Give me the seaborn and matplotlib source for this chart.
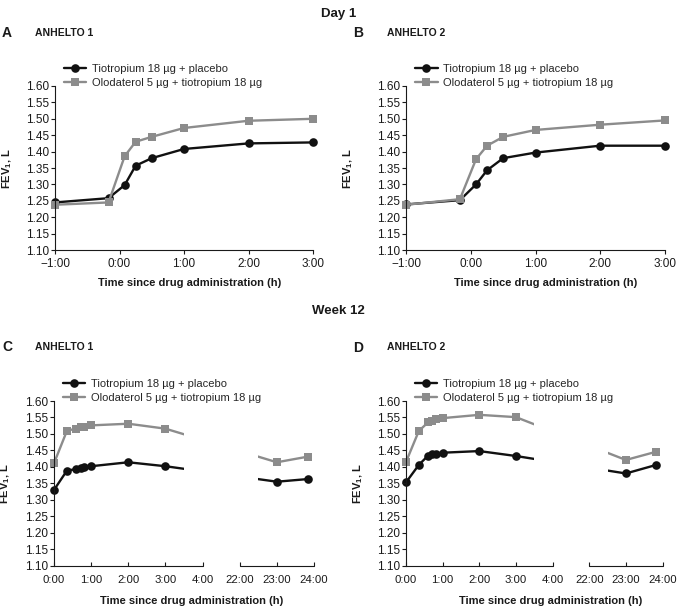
import numpy as np
import pandas as pd
import matplotlib
matplotlib.use("Agg")
import matplotlib.pyplot as plt
import seaborn as sns

# Day 1 - hours relative to drug administration
day1_time = [-1.0, -0.17, 0.08, 0.25, 0.5, 1.0, 2.0, 3.0]
a_tio = [1.245, 1.258, 1.298, 1.357, 1.380, 1.408, 1.425, 1.428]
a_olo = [1.238, 1.245, 1.386, 1.430, 1.445, 1.472, 1.494, 1.500]
b_tio = [1.239, 1.252, 1.300, 1.343, 1.380, 1.397, 1.418, 1.418]
b_olo = [1.238, 1.255, 1.377, 1.418, 1.445, 1.466, 1.482, 1.495]

# Week 12
wk12_time = [0.0, 0.35, 0.6, 0.72, 0.82, 1.0, 2.0, 3.0, 23.0, 23.83]
c_tio = [1.330, 1.389, 1.393, 1.397, 1.400, 1.402, 1.414, 1.402, 1.355, 1.363]
c_olo = [1.411, 1.510, 1.516, 1.520, 1.522, 1.526, 1.531, 1.516, 1.414, 1.431]
d_tio = [1.353, 1.406, 1.434, 1.438, 1.440, 1.443, 1.448, 1.433, 1.380, 1.406]
d_olo = [1.415, 1.509, 1.535, 1.540, 1.545, 1.548, 1.558, 1.551, 1.421, 1.446]

day1_ticks = [-1, 0, 1, 2, 3]
day1_labels = ["\u22121:00", "0:00", "1:00", "2:00", "3:00"]
wk12_ticks = [0, 1, 2, 3, 4, 22, 23, 24]
wk12_labels = ["0:00", "1:00", "2:00", "3:00", "4:00", "22:00", "23:00", "24:00"]
y_ticks = [1.10, 1.15, 1.20, 1.25, 1.30, 1.35, 1.40, 1.45, 1.50, 1.55, 1.60]

label_tio = "Tiotropium 18 \u00b5g + placebo"
label_olo = "Olodaterol 5 \u00b5g + tiotropium 18 \u00b5g"

BLACK = "#111111"
GRAY = "#8c8c8c"
TXT = "#1a1a1a"

sns.set_style("ticks")
plt.rcParams["font.family"] = ["Liberation Sans", "DejaVu Sans"]
plt.rcParams["mathtext.fontset"] = "custom"
plt.rcParams["mathtext.rm"] = "Liberation Sans"
plt.rcParams["mathtext.bf"] = "Liberation Sans:bold"


def squeeze(t):
    # the week 12 axis jumps from 4:00 straight to 22:00
    t = np.asarray(t, dtype=float)
    return np.where(t > 4, t - 17, t)


def draw(ax, t, tio, olo):
    df = pd.DataFrame({"time": t, "tio": tio, "olo": olo})
    sns.lineplot(data=df, x="time", y="tio", ax=ax, color=BLACK, marker="o",
                 markersize=6.2, markeredgewidth=0, linewidth=1.7, label=label_tio,
                 clip_on=False)
    sns.lineplot(data=df, x="time", y="olo", ax=ax, color=GRAY, marker="s",
                 markersize=5.2, markeredgewidth=0, linewidth=1.7, label=label_olo,
                 clip_on=False)
    ax.set_ylim(1.10, 1.60)
    ax.set_yticks(y_ticks)
    ax.set_yticklabels([f"{v:.2f}" for v in y_ticks])
    ax.spines[["top", "right"]].set_visible(False)
    for s in ax.spines.values():
        s.set_linewidth(0.8)
        s.set_color(TXT)
    ax.tick_params(axis="y", direction="out", length=3, width=0.8, pad=1.5,
                   labelsize=8.5, colors=TXT)
    ax.legend(loc="lower left", bbox_to_anchor=(0.035, 0.99), frameon=False,
              fontsize=8, handlelength=2.0, handletextpad=0.5, labelspacing=0.35,
              borderpad=0, borderaxespad=0)
    ax.set_xlabel("Time since drug administration (h)", fontsize=8, fontweight="bold", color=TXT)
    ax.set_ylabel(r"FEV$_\mathbf{1}$, L", fontsize=8, fontweight="bold", color=TXT)


fig = plt.figure(figsize=(6.77, 6.07), dpi=100)

W, H = 677.0, 607.0
panels = {
    "A": (55, 250, 258, 164),
    "B": (406.3, 250, 258.4, 164),
    "C": (54, 565.7, 260, 164.7),
    "D": (406, 565.7, 256.5, 164.7),
}
axes = {}
for k, (x0, ybot, w, h) in panels.items():
    axes[k] = fig.add_axes([x0 / W, 1 - ybot / H, w / W, h / H])

# Day 1 panels
for k, tio, olo, ylab_x, xlab_x in [("A", a_tio, a_olo, -0.16, 0.523),
                                     ("B", b_tio, b_olo, -0.20, 0.538)]:
    ax = axes[k]
    draw(ax, day1_time, tio, olo)
    ax.set_xlim(-1, 3)
    ax.set_xticks(day1_ticks)
    ax.set_xticklabels(day1_labels)
    ax.tick_params(axis="x", direction="out", length=3, width=0.8, pad=3,
                   labelsize=8.5, colors=TXT)
    ax.yaxis.set_label_coords(ylab_x, 0.5)
    ax.xaxis.set_label_coords(xlab_x, -0.17)

# Week 12 panels with broken time axis
for k, tio, olo, ylab_x, xlab_x in [("C", c_tio, c_olo, -0.16, 0.531),
                                     ("D", d_tio, d_olo, -0.16, 0.563)]:
    ax = axes[k]
    draw(ax, squeeze(wk12_time), tio, olo)
    ax.set_xlim(0, 7)
    ax.set_xticks(squeeze(wk12_ticks))
    ax.set_xticklabels(wk12_labels)
    ax.tick_params(axis="x", direction="in", length=3, width=0.8, pad=7,
                   labelsize=8.2, colors=TXT)
    ax.set_axisbelow(False)
    ax.spines["bottom"].set_visible(False)
    ax.axvspan(3.5, 5.5, color="white", lw=0, zorder=2.2)
    for seg in ([0, 4], [5, 7]):
        ax.plot(seg, [0, 0], transform=ax.get_xaxis_transform(), color=TXT,
                lw=0.8, clip_on=False, zorder=3)
    ax.yaxis.set_label_coords(ylab_x, 0.5)
    ax.xaxis.set_label_coords(xlab_x, -0.185)

# headings and panel letters
fig.text(338.5 / W, 1 - 14 / H, "Day 1", ha="center", va="center",
         fontsize=9.5, fontweight="bold", color=TXT)
fig.text(338.5 / W, 1 - 311 / H, "Week 12", ha="center", va="center",
         fontsize=9.5, fontweight="bold", color=TXT)
for letter, study, lx, sx, yy in [("A", "ANHELTO 1", 2, 35, 33),
                                  ("B", "ANHELTO 2", 353, 387, 33),
                                  ("C", "ANHELTO 1", 2, 35, 347),
                                  ("D", "ANHELTO 2", 353, 387, 347.5)]:
    fig.text(lx / W, 1 - yy / H, letter, ha="left", va="center",
             fontsize=10, fontweight="bold", color=TXT)
    fig.text(sx / W, 1 - yy / H, study, ha="left", va="center",
             fontsize=7.5, fontweight="bold", color=TXT)

fig.savefig("out.png", dpi=100)
